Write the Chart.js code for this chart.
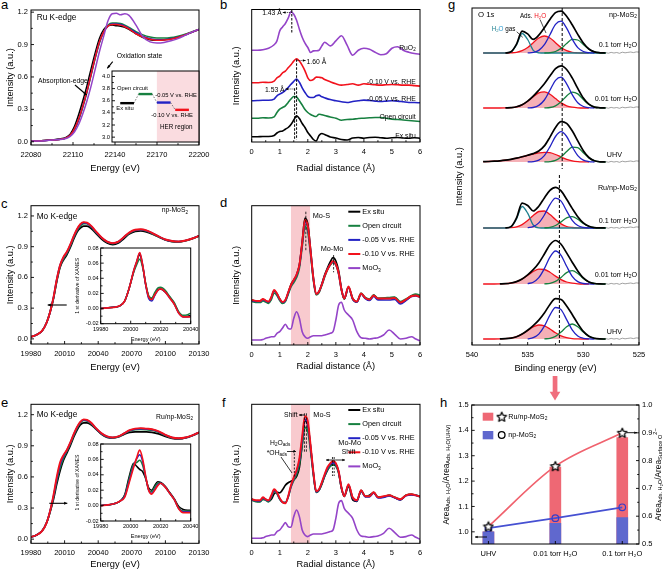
<!DOCTYPE html>
<html>
<head>
<meta charset="utf-8">
<script src="https://cdn.jsdelivr.net/npm/chart.js@4.4.1/dist/chart.umd.min.js"></script>
<style>
  html, body { margin: 0; padding: 0; background: #fff; }
  #fig { position: relative; width: 668px; height: 570px; overflow: hidden; background: #fff; }
  #fig canvas { position: absolute; }
  .tag { position: absolute; font: 13px "Liberation Sans", Arial, sans-serif; line-height: 13px; color: #000; }
</style>
</head>
<body>
<div id="fig">
  <div class="tag" style="left:1px;top:-2px">a</div>
  <div class="tag" style="left:220px;top:-2px">b</div>
  <div class="tag" style="left:1px;top:197px">c</div>
  <div class="tag" style="left:220px;top:196px">d</div>
  <div class="tag" style="left:1px;top:396px">e</div>
  <div class="tag" style="left:222px;top:396px">f</div>
  <div class="tag" style="left:448px;top:-2px">g</div>
  <div class="tag" style="left:440px;top:396px">h</div>
</div>
<script>
// ---------- data: panel a (Ru K-edge XANES) ----------
const aEnergy = [22080, 22090, 22100, 22105, 22108, 22111, 22114, 22117, 22120, 22123, 22126, 22129, 22132, 22135, 22138, 22141, 22144, 22147, 22150, 22155, 22160, 22165, 22170, 22175, 22180, 22185, 22190, 22195, 22200];
const aExSitu = [0.005, 0.012, 0.025, 0.04, 0.07, 0.14, 0.25, 0.38, 0.52, 0.68, 0.83, 0.96, 1.04, 1.075, 1.08, 1.075, 1.07, 1.06, 1.04, 1.0, 0.965, 0.945, 0.94, 0.945, 0.955, 0.97, 0.99, 1.015, 1.04];
const aOpen = [0.005, 0.012, 0.022, 0.035, 0.06, 0.11, 0.2, 0.32, 0.46, 0.62, 0.78, 0.92, 1.02, 1.08, 1.10, 1.10, 1.095, 1.08, 1.06, 1.02, 0.99, 0.97, 0.96, 0.96, 0.965, 0.978, 0.995, 1.018, 1.04];
const aM005 = [0.005, 0.012, 0.022, 0.035, 0.06, 0.115, 0.205, 0.33, 0.47, 0.63, 0.79, 0.925, 1.02, 1.07, 1.09, 1.09, 1.085, 1.07, 1.05, 1.01, 0.975, 0.955, 0.945, 0.945, 0.953, 0.968, 0.988, 1.013, 1.04];
const aM010 = [0.005, 0.012, 0.022, 0.035, 0.06, 0.12, 0.21, 0.33, 0.47, 0.63, 0.79, 0.93, 1.02, 1.07, 1.085, 1.085, 1.08, 1.065, 1.045, 1.0, 0.97, 0.95, 0.94, 0.942, 0.95, 0.965, 0.99, 1.015, 1.04];
const aRuO2 = [0.005, 0.01, 0.02, 0.03, 0.05, 0.09, 0.16, 0.26, 0.38, 0.52, 0.68, 0.84, 0.98, 1.12, 1.185, 1.19, 1.175, 1.185, 1.17, 1.08, 0.97, 0.925, 0.915, 0.92, 0.935, 0.955, 0.985, 1.015, 1.04];
const aTicksX = [22080, 22110, 22140, 22170, 22200];
const aTicksY = [0, 0.3, 0.6, 0.9, 1.2];
// inset of a: oxidation state
const aStates = ['Ex situ', 'Open circuit', '-0.05 V vs. RHE', '-0.10 V vs. RHE'];
const aOxidation = [3.56, 3.71, 3.57, 3.45];
const aInsetTicks = [3.0, 3.2, 3.4, 3.6, 3.8, 4.0];

// ---------- panel b (Ru EXAFS) ----------
const bR = [0, 0.2, 0.4, 0.6, 0.8, 0.9, 1.0, 1.1, 1.2, 1.3, 1.4, 1.5, 1.6, 1.7, 1.8, 1.9, 2.0, 2.1, 2.2, 2.3, 2.4, 2.5, 2.6, 2.8, 3.0, 3.2, 3.4, 3.6, 3.8, 4.0, 4.2, 4.4, 4.6, 4.8, 5.0, 5.2, 5.4, 5.6, 5.8, 6.0];
const bExSitu = [0.7, 0.7, 1, 1, 2, 4.5, 6, 6.5, 8.3, 10, 13, 17.5, 21.7, 19, 14, 10, 5, 1.5, -2, -3.5, 2, 4, 3, 0.5, -0.5, -2, -2.5, -0.5, 0, -0.7, 0, 0.3, -0.2, -0.7, -0.2, 0, -0.5, -0.7, -0.2, -0.7];
const bOpen = [0.3, 0.3, 0.8, 0.5, 1.7, 6, 9.3, 11, 12.7, 16, 19.5, 22, 21.5, 17.7, 13.5, 9, 6, 4, 2.7, 2, 4.3, 3.7, 3, 1.5, 0.3, -1.7, -1, -0.7, 0, 0.3, 0.7, 1, 1, 0.3, -0.7, -1, -1.5, -2, -2.5, -3];
const bM005 = [0, 0.3, 0.5, 0.5, 1.7, 5, 6.7, 8.3, 10.5, 13.3, 16.5, 19.5, 21.7, 18.5, 13, 8.3, 4.5, 3.3, 3.3, 5, 5.7, 4, 3, 1.2, 0, -1, -1.7, -0.7, 0, 0.7, 0.3, -0.3, -0.7, -0.3, 0, -0.3, -1, -1.7, -1.7, -2];
const bM010 = [0, 0, 0.5, 0.3, 1.7, 5, 6.7, 10, 11.7, 15, 18, 21.7, 24, 21.7, 17.5, 12, 5, 2.3, 3.3, 5.7, 5.5, 5, 3.3, 1, -1, -2.3, -1.7, -1, -2.3, -1, -1.5, -2, -2.3, -2, -1.7, -2, -2.3, -2.3, -2.8, -3.3];
const bRuO2 = [0, 0, 0.5, 2, 5.5, 9.3, 19.3, 23.3, 26.7, 32, 38.5, 36, 30, 21, 13, 7, 2.7, -2.3, -0.7, -0.5, 0, 4.3, 8, 4.3, 9.3, 14.5, 5, -5, 0, 2, 1, -2, -4.5, -3.5, 2, 3.5, 0, -2, -3.3, -4];
const bNames = ['Ex situ', 'Open circuit', '-0.05 V vs. RHE', '-0.10 V vs. RHE', 'RuO_2'];
const bOffsets = [2, 21, 38.7, 56.7, 89.3];
const rTicks = [0, 1, 2, 3, 4, 5, 6];

// ---------- panels c / e (Mo K-edge XANES) ----------
const cE = [19980, 19985, 19990, 19994, 19997, 20000, 20003, 20006, 20009, 20012, 20015, 20018, 20021, 20024, 20027, 20030, 20034, 20038, 20043, 20048, 20053, 20058, 20063, 20068, 20073, 20078, 20083, 20088, 20094, 20100, 20106, 20112, 20118, 20124, 20130];
const cExSitu = [0.02, 0.04, 0.08, 0.16, 0.26, 0.39, 0.56, 0.7, 0.77, 0.82, 0.89, 0.97, 1.04, 1.08, 1.10, 1.1, 1.075, 1.03, 0.975, 0.935, 0.92, 0.935, 0.98, 1.025, 1.05, 1.055, 1.045, 1.025, 0.995, 0.965, 0.95, 0.947, 0.958, 0.978, 1.003];
const cOpen = [0.02, 0.04, 0.08, 0.16, 0.26, 0.39, 0.57, 0.71, 0.78, 0.835, 0.905, 0.985, 1.055, 1.1, 1.125, 1.125, 1.09, 1.04, 0.985, 0.945, 0.93, 0.945, 0.99, 1.033, 1.058, 1.063, 1.053, 1.03, 0.997, 0.967, 0.952, 0.948, 0.959, 0.979, 1.004];
const cM005 = [0.02, 0.04, 0.08, 0.16, 0.26, 0.4, 0.58, 0.72, 0.795, 0.845, 0.915, 0.995, 1.065, 1.115, 1.135, 1.13, 1.095, 1.045, 0.988, 0.948, 0.933, 0.948, 0.993, 1.037, 1.062, 1.067, 1.057, 1.033, 0.999, 0.969, 0.954, 0.95, 0.96, 0.98, 1.005];
const cM010 = [0.02, 0.04, 0.08, 0.16, 0.26, 0.4, 0.58, 0.72, 0.8, 0.85, 0.92, 1.0, 1.07, 1.12, 1.14, 1.135, 1.1, 1.05, 0.99, 0.95, 0.935, 0.95, 0.995, 1.04, 1.065, 1.07, 1.06, 1.035, 1.0, 0.97, 0.955, 0.95, 0.96, 0.98, 1.005];
const eExSitu = [0.02, 0.04, 0.08, 0.16, 0.26, 0.38, 0.53, 0.66, 0.76, 0.83, 0.9, 0.98, 1.05, 1.1, 1.12, 1.12, 1.1, 1.06, 1.01, 0.98, 0.975, 0.985, 1.01, 1.03, 1.035, 1.035, 1.035, 1.03, 1.015, 0.99, 0.972, 0.967, 0.975, 0.997, 1.027];
const eOpen = [0.02, 0.04, 0.08, 0.16, 0.265, 0.4, 0.56, 0.69, 0.78, 0.845, 0.915, 0.995, 1.065, 1.12, 1.145, 1.14, 1.11, 1.065, 1.015, 0.985, 0.978, 0.988, 1.015, 1.042, 1.055, 1.058, 1.055, 1.05, 1.03, 1.0, 0.977, 0.97, 0.978, 0.999, 1.029];
const eM005 = [0.02, 0.04, 0.08, 0.16, 0.27, 0.41, 0.58, 0.72, 0.8, 0.855, 0.925, 1.005, 1.075, 1.127, 1.15, 1.145, 1.115, 1.068, 1.018, 0.988, 0.979, 0.989, 1.018, 1.047, 1.061, 1.065, 1.061, 1.056, 1.036, 1.003, 0.979, 0.971, 0.979, 1.0, 1.03];
const eM010 = [0.02, 0.04, 0.08, 0.16, 0.27, 0.42, 0.6, 0.74, 0.81, 0.86, 0.93, 1.01, 1.08, 1.13, 1.155, 1.15, 1.12, 1.07, 1.02, 0.99, 0.98, 0.99, 1.02, 1.05, 1.065, 1.07, 1.065, 1.06, 1.04, 1.005, 0.98, 0.972, 0.98, 1.0, 1.03];
const moTicksX = [19980, 20010, 20040, 20070, 20100, 20130];
// insets: 1st derivative of XANES
const iE = [19980, 19985, 19990, 19993, 19996, 19999, 20002, 20004, 20006, 20008, 20010, 20012, 20014, 20016, 20018, 20020, 20023, 20026, 20029, 20032, 20035, 20038, 20040];
const ciExSitu = [0, 0.001, 0.002, 0.004, 0.01, 0.027, 0.049, 0.061, 0.071, 0.056, 0.032, 0.016, 0.013, 0.019, 0.025, 0.026, 0.022, 0.015, 0.007, -0.005, -0.01, -0.01, -0.009];
const ciOpen = [0, 0.001, 0.002, 0.004, 0.01, 0.027, 0.048, 0.058, 0.065, 0.054, 0.033, 0.017, 0.014, 0.021, 0.027, 0.028, 0.024, 0.016, 0.008, -0.004, -0.009, -0.008, -0.006];
const ciM005 = [0, 0.001, 0.002, 0.004, 0.01, 0.027, 0.05, 0.062, 0.073, 0.057, 0.031, 0.013, 0.01, 0.017, 0.024, 0.026, 0.022, 0.014, 0.006, -0.006, -0.011, -0.011, -0.01];
const ciM010 = [0, 0.001, 0.002, 0.004, 0.01, 0.027, 0.05, 0.062, 0.074, 0.057, 0.032, 0.015, 0.012, 0.018, 0.024, 0.026, 0.022, 0.014, 0.006, -0.006, -0.011, -0.011, -0.011];
const eiExSitu = [0, 0.001, 0.003, 0.006, 0.014, 0.038, 0.055, 0.051, 0.047, 0.044, 0.035, 0.023, 0.02, 0.026, 0.031, 0.03, 0.025, 0.017, 0.009, -0.001, -0.005, -0.006, -0.006];
const eiOpen = [0, 0.001, 0.003, 0.006, 0.013, 0.035, 0.054, 0.056, 0.059, 0.052, 0.036, 0.021, 0.018, 0.024, 0.029, 0.029, 0.024, 0.016, 0.008, -0.003, -0.007, -0.007, -0.007];
const eiM005 = [0, 0.001, 0.003, 0.006, 0.012, 0.032, 0.052, 0.061, 0.066, 0.057, 0.037, 0.02, 0.016, 0.021, 0.027, 0.029, 0.024, 0.016, 0.008, -0.004, -0.008, -0.008, -0.008];
const eiM010 = [0, 0.001, 0.003, 0.006, 0.011, 0.03, 0.05, 0.062, 0.072, 0.06, 0.038, 0.02, 0.015, 0.02, 0.026, 0.029, 0.024, 0.016, 0.008, -0.004, -0.009, -0.009, -0.009];
const iTicksX = [19980, 20000, 20020, 20040];
const iTicksY = [-0.02, 0, 0.02, 0.04, 0.06, 0.08];

// ---------- panels d / f (Mo EXAFS) ----------
const dR = [0, 0.2, 0.3, 0.4, 0.5, 0.6, 0.7, 0.8, 0.9, 1.0, 1.1, 1.2, 1.3, 1.4, 1.5, 1.6, 1.7, 1.8, 1.9, 2.0, 2.1, 2.2, 2.3, 2.4, 2.5, 2.6, 2.7, 2.8, 2.9, 3.0, 3.1, 3.2, 3.3, 3.45, 3.6, 3.75, 3.9, 4.05, 4.2, 4.35, 4.5, 4.7, 4.9, 5.1, 5.3, 5.5, 5.7, 5.85, 6.0];
const dExSitu = [45, 43.5, 44, 45.5, 44, 42.7, 47, 54, 51, 46, 42.7, 44.5, 52, 60.5, 65, 70, 80, 103, 127, 121, 95, 67, 51, 53, 61, 70, 77, 83, 87.3, 84, 74, 56, 46, 58, 46, 43, 51, 47, 45, 50, 46, 46.7, 47, 47.5, 42, 45, 49, 50, 48.3];
const dOpen = [43.5, 42.5, 42.5, 44, 43, 41.5, 45.5, 52, 49.5, 44.5, 41.5, 43.5, 50.5, 58, 62.5, 67.5, 77, 98, 118.5, 113, 90, 64.5, 50, 52.5, 59.5, 68, 75, 80, 82.7, 80, 71, 55, 46, 57.5, 46.5, 43.5, 52, 47.5, 46, 50, 47, 47, 47.5, 48, 43.5, 46, 49.5, 51, 49.5];
const dM005 = [44.5, 43.5, 43.5, 45.5, 44, 43, 47.5, 54.5, 51, 45.5, 42.5, 44.5, 52, 59.5, 64.5, 70, 79.5, 101, 123, 117.5, 93, 66, 51, 53.5, 60.5, 69, 75.5, 80.5, 83.5, 80.5, 71.5, 55.5, 46.5, 58, 46, 43, 51, 46.5, 44.5, 48.5, 45, 45, 45, 45.5, 41, 44.5, 48.5, 49, 48];
const dM010 = [45, 44, 44, 46, 44.5, 43.5, 48, 55, 51.5, 46, 43, 45, 52.5, 60, 65, 70.5, 80, 102, 125, 119, 94, 66.5, 51, 53.5, 60.5, 69, 75.5, 80.5, 84, 81, 72, 55.5, 46.5, 58.5, 46.5, 43.5, 51.5, 47, 45.5, 49.5, 46.5, 46.5, 46.5, 47, 42.5, 45.5, 49, 49.5, 48];
const moO3 = [5, 5, 5, 5.5, 6.7, 7.5, 8.3, 8.3, 11.7, 13.3, 17, 20.7, 16.7, 16, 26.7, 33.3, 26.7, 13.3, 8.3, 6.7, 8.3, 9.3, 9.3, 9.3, 9.3, 10, 10.7, 11.7, 13.3, 25, 40, 42.7, 35, 30, 25, 13.3, 7.3, 6.7, 6, 6.7, 7.3, 10, 15, 10.7, 6, 6.7, 8.3, 6, 4];
const fExSitu = [44.3, 42, 42, 44.5, 44, 42, 44, 49.5, 51, 50.5, 53.5, 58, 60.5, 62, 63.5, 67, 76, 99, 123, 118, 96, 70, 51, 53, 59, 67, 73, 77.5, 81, 79, 71, 55, 47, 57, 43.5, 42, 53, 47, 48, 51, 46, 46.5, 48, 45.7, 43.5, 48, 49, 48, 46.7];
const fOpen = [43, 41.5, 41.5, 44, 43, 41.5, 46, 52, 49.5, 44, 41, 41, 46, 56, 63, 69, 79, 98, 116, 112, 92, 68, 51, 53, 59.5, 67, 73.5, 77, 78.5, 77, 70, 55, 47, 58, 45.5, 43, 52, 47, 47, 50.5, 46.5, 46.5, 48, 46, 44, 48, 49, 48, 46.7];
const fM005 = [43.5, 42.5, 42.5, 45.5, 43.5, 42.5, 47, 53, 50.5, 44.5, 41, 40.5, 46.5, 57, 65, 72, 83, 104, 124, 119, 96, 70, 51.5, 53.5, 60.5, 68, 75, 79, 80.5, 79, 71.5, 55.5, 47, 58.5, 45.5, 42.5, 52.5, 46.5, 46.5, 50.5, 45.5, 46, 47.5, 45.5, 43.5, 47.5, 48.5, 48, 46.5];
const fM010 = [44, 43, 43, 46, 44, 43, 48, 54, 51, 45, 41, 40, 47, 58, 66, 73, 85, 107, 127, 122, 98, 71, 52, 54, 61, 69, 76, 80, 82.3, 80, 72, 56, 47, 59, 46, 43, 53, 47, 47, 51, 46, 47, 48, 46, 44, 48, 49, 48, 46.7];
const dNames = ['Ex situ', 'Open circuit', '-0.05 V vs. RHE', '-0.10 V vs. RHE', 'MoO_3'];
const moSBand = [1.4, 2.08];

// ---------- panel g (O 1s XPS) ----------
const gBE = [539, 538.5, 538, 537.5, 537, 536.5, 536, 535.5, 535, 534.5, 534, 533.5, 533, 532.5, 532, 531.5, 531, 530.5, 530, 529.5, 529, 528.5, 528];
const N = null;
const gEnvelope = [
  [N, N, N, N, 0, 1.2, 8.9, 21.8, 19.1, 13.6, 17.8, 25.3, 33.6, 40.4, 41.9, 36.7, 28.2, 18.6, 10, 4, 1.1, 0.2, 0],
  [N, N, N, N, 0.1, 0.4, 1.2, 3.2, 6.8, 11.8, 17.8, 24.2, 32.0, 39.3, 42.1, 38.5, 30.1, 19.6, 10.0, 3.8, 0.9, 0.2, 0],
  [0.3, 0.5, 0.8, 1.2, 1.8, 2.7, 3.8, 5.2, 6.7, 8.4, 11.0, 16.1, 24.9, 34.6, 40.3, 38.6, 31.2, 21.1, 11.3, 4.5, 1.2, 0.2, 0],
  [N, N, N, N, 0.1, 1.4, 10.2, 24.9, 22.5, 17.0, 21.8, 30.1, 37.6, 40.7, 37.1, 28.7, 19.6, 11.3, 5.1, 1.7, 0.4, 0.1, 0],
  [N, N, N, 0.1, 0.3, 1.0, 2.4, 5.0, 9.1, 14.3, 21.1, 30.0, 39.3, 43.5, 39.7, 31.1, 21.8, 13.1, 6.1, 2.1, 0.5, 0.1, 0],
  [N, N, N, 0.1, 0.3, 0.9, 2.3, 4.9, 8.7, 13.4, 18.9, 26.0, 34.6, 40.3, 39.5, 33.0, 24.5, 15.4, 7.6, 2.7, 0.7, 0.1, 0]
];
const gLattice = [ // blue component
  [N, N, N, N, N, N, N, N, 0.1, 0.6, 2.6, 8.3, 18.3, 28.6, 31.8, 24.9, 13.9, 5.4, 1.5, 0.3, 0, N, N],
  [N, N, N, N, N, N, N, N, 0.1, 0.5, 2.6, 8.0, 17.7, 27.7, 30.8, 24.2, 13.4, 5.3, 1.5, 0.3, 0, N, N],
  [N, N, N, N, N, N, N, N, 0.1, 0.4, 1.9, 6.4, 15.2, 25.5, 30.3, 25.5, 15.2, 6.4, 1.9, 0.4, 0, N, N],
  [N, N, N, N, N, N, N, N, 0.3, 1.4, 5.1, 13.0, 23.4, 29.8, 26.9, 17.1, 7.7, 2.5, 0.6, 0.1, 0, N, N],
  [N, N, N, N, N, N, N, N, 0.4, 1.8, 6.3, 15.4, 26.8, 33.0, 28.7, 17.7, 7.7, 2.4, 0.5, 0.1, 0, N, N],
  [N, N, N, N, N, N, N, N, 0.2, 1.3, 4.9, 12.8, 23.9, 31.5, 29.4, 19.4, 9.1, 3.0, 0.7, 0.1, 0, N, N]
];
const gSurface = [ // green component
  [N, N, N, N, N, N, N, N, N, N, N, 0, 0.3, 1.5, 4.6, 9.5, 13.6, 13.0, 8.5, 3.7, 1.1, 0.2, 0],
  [N, N, N, N, N, N, N, N, N, N, N, 0.1, 0.5, 2.2, 6.2, 12.1, 15.9, 14.1, 8.5, 3.5, 0.9, 0.2, 0],
  [N, N, N, N, N, N, N, N, N, N, N, 0.1, 0.4, 1.6, 5.0, 10.4, 14.8, 14.3, 9.3, 4.1, 1.2, 0.2, 0],
  [N, N, N, N, N, N, N, N, N, N, N, 0.1, 0.7, 2.5, 6.1, 10.1, 11.4, 8.7, 4.5, 1.6, 0.4, 0.1, 0],
  [N, N, N, N, N, N, N, N, N, N, N, 0.1, 0.7, 2.6, 6.6, 11.4, 13.3, 10.5, 5.6, 2.0, 0.5, 0.1, 0],
  [N, N, N, N, N, N, N, N, N, N, N, 0.1, 0.7, 2.6, 6.9, 12.3, 15.0, 12.3, 6.9, 2.6, 0.7, 0.1, 0]
];
const gAdsorbed = [ // red, filled component
  [0, 0, 0, 0, 0, 0.2, 0.7, 2.3, 5.5, 10.3, 15.0, 17, 15.0, 10.3, 5.5, 2.3, 0.7, 0.2, 0, 0, N, N, N],
  [0, 0, 0, 0, 0.1, 0.4, 1.2, 3.2, 6.7, 11.3, 15.2, 16.2, 13.8, 9.4, 5.1, 2.2, 0.8, 0.2, 0, 0, N, N, N],
  [0.3, 0.5, 0.8, 1.2, 1.8, 2.7, 3.8, 5.2, 6.6, 8.0, 9.1, 9.7, 9.3, 7.5, 5.0, 2.7, 1.2, 0.4, 0.1, 0, N, N, N],
  [0, 0, 0, 0, 0.1, 0.3, 1.2, 3.4, 7.4, 12.6, 16.5, 17.0, 13.5, 8.4, 4.1, 1.5, 0.5, 0.1, 0, 0, N, N, N],
  [0, 0, 0, 0.1, 0.3, 1.0, 2.4, 5.0, 8.7, 12.5, 14.8, 14.5, 11.8, 7.9, 4.4, 2.0, 0.8, 0.2, 0, 0, N, N, N],
  [0, 0, 0, 0.1, 0.3, 0.9, 2.3, 4.9, 8.5, 12.1, 14.0, 13.1, 10.0, 6.2, 3.2, 1.3, 0.4, 0.1, 0, 0, N, N, N]
];
const gGas = [ // teal, only with 0.1 torr H2O
  [0, 0, 0, 0, 0, 1.0, 8.2, 19.5, 13.5, 2.7, 0.2, 0, 0, 0, 0, 0, 0, 0, 0, 0, 0, 0, 0],
  N, N,
  [0, 0, 0, 0, 0, 1.1, 9.0, 21.5, 14.8, 3.0, 0.2, 0, 0, 0, 0, 0, 0, 0, 0, 0, 0, 0, 0],
  N, N
];
const gRawBE = [528.5, 528.25, 528, 527.75, 527.5, 527.25, 527, 526.75, 526.5, 526.25, 526, 525.75, 525.5, 525.25, 525];
const gRawTail = [0.2, -0.5, 0.4, -0.2, 0.6, 0.0, 0.5, -0.3, 0.8, 0.2, 0.6, 1.0, 0.4, 1.1, 0.9];
const gBaselines = [292, 237, 183, 117, 61, 6];
const gConditions = ['0.1 torr H_2O', '0.01 torr H_2O', 'UHV', '0.1 torr H_2O', '0.01 torr H_2O', 'UHV'];
const gTicks = [540, 535, 530, 525];

// ---------- panel h ----------
const hConditions = ['UHV', '0.01 torr H\u2082O', '0.1 torr H\u2082O'];
const hRuBar = [1.0, 1.255, 1.372];
const hNpBar = [1.0, 1.033, 1.056];
const hRuRatio = [0.563, 0.78, 0.90];
const hNpRatio = [0.557, 0.593, 0.632];
const hTicksL = [1.0, 1.1, 1.2, 1.3, 1.4, 1.5];
const hTicksR = [0.5, 0.6, 0.7, 0.8, 0.9, 1.0];

// ---------- style ----------
const FONT = '"Liberation Sans", Arial, Helvetica, sans-serif';
const BLACK = '#000000', GREEN = '#178040', BLUE = '#2222c4', RED = '#f2121c', PURPLE = '#9444c8';
const TEAL = '#1d7f8e', FILL = 'rgba(236,112,122,0.55)', BAND = 'rgba(242,150,158,0.5)';
const PINKBAR = 'rgb(238,104,116)', BLUEBAR = 'rgb(96,104,206)';
Chart.defaults.font.family = FONT;
Chart.defaults.color = '#000';
const fig = document.getElementById('fig');

// ---------- drawing helpers ----------
function txt(ctx, x, y, parts, size, align, rot) {
  if (typeof parts === 'string') parts = [[parts]];
  const runs = [];
  parts.forEach(([s, color, style]) => {
    const re = /([_^])(?:\{([^}]*)\}|(.))/g;
    let last = 0, m;
    const push = (t, k) => { if (t) runs.push({ t, k, color: color || '#000', style: style || '' }); };
    while ((m = re.exec(s))) {
      push(s.slice(last, m.index), 0);
      push(m[2] !== undefined ? m[2] : m[3], m[1] === '_' ? 1 : -1);
      last = re.lastIndex;
    }
    push(s.slice(last), 0);
  });
  const font = r => (r.style ? r.style + ' ' : '') + (r.k ? size * 0.68 : size).toFixed(2) + 'px ' + FONT;
  let w = 0;
  runs.forEach(r => { ctx.font = font(r); r.w = ctx.measureText(r.t).width; w += r.w; });
  ctx.save();
  ctx.translate(x, y);
  if (rot) ctx.rotate(rot);
  ctx.textBaseline = 'middle';
  ctx.textAlign = 'left';
  let cx = align === 'center' ? -w / 2 : align === 'right' ? -w : 0;
  runs.forEach(r => {
    ctx.font = font(r);
    ctx.fillStyle = r.color;
    ctx.fillText(r.t, cx, r.k === 1 ? size * 0.28 : r.k === -1 ? -size * 0.32 : 0);
    cx += r.w;
  });
  ctx.restore();
}
function line(ctx, pts, o = {}) {
  ctx.save();
  ctx.strokeStyle = o.c || '#000';
  ctx.lineWidth = o.w || 0.8;
  ctx.setLineDash(o.dash || []);
  ctx.beginPath();
  pts.forEach(([x, y], i) => i ? ctx.lineTo(x, y) : ctx.moveTo(x, y));
  ctx.stroke();
  ctx.restore();
}
function head(ctx, x0, y0, x1, y1, h, c) {
  const a = Math.atan2(y1 - y0, x1 - x0);
  ctx.save();
  ctx.fillStyle = c || '#000';
  ctx.beginPath();
  ctx.moveTo(x1, y1);
  ctx.lineTo(x1 - h * Math.cos(a - 0.45), y1 - h * Math.sin(a - 0.45));
  ctx.lineTo(x1 - h * Math.cos(a + 0.45), y1 - h * Math.sin(a + 0.45));
  ctx.closePath();
  ctx.fill();
  ctx.restore();
}
function arrow(ctx, x0, y0, x1, y1, o = {}) {
  line(ctx, [[x0, y0], [x1, y1]], o);
  head(ctx, x0, y0, x1, y1, o.h || 3.5, o.c);
}
function legend(ctx, x, y0, dy, names, colors) {
  names.forEach((n, i) => {
    const y = y0 + i * dy;
    line(ctx, [[x, y], [x + 12, y]], { c: colors[i], w: 2 });
    txt(ctx, x + 14, y, n, 7.3, 'left');
  });
}
function starImage(size) {
  const c = document.createElement('canvas');
  c.width = c.height = size;
  const g = c.getContext('2d');
  const r = size / 2 - 1, ri = r * 0.48, cx = size / 2, cy = size / 2 + 0.4;
  g.beginPath();
  for (let k = 0; k < 10; k++) {
    const rr = k % 2 ? ri : r, a = -Math.PI / 2 + k * Math.PI / 5;
    g.lineTo(cx + rr * Math.cos(a), cy + rr * Math.sin(a));
  }
  g.closePath();
  g.fillStyle = '#fff'; g.fill();
  g.strokeStyle = '#000'; g.lineWidth = 1.3; g.lineJoin = 'round'; g.stroke();
  return c;
}
const STAR = starImage(12);

function curve(xs, ys, color, extra) {
  return Object.assign({
    data: xs.map((x, i) => ({ x, y: ys[i] })),
    borderColor: color, backgroundColor: color, borderWidth: 1.5, pointRadius: 0, fill: false
  }, extra || {});
}
const shift = (ys, off) => ys.map(v => v == null ? null : v + off);

// ---------- chart factory: fixed plot area in page pixels ----------
function axis(o, position, p, fit) {
  const [bx, by, bw, bh] = p.box;
  const fs = o.fs || 7.5, tfs = o.tfs || 9.3, lh = tfs * 1.2;
  const tpad = { top: 0, bottom: 0 };
  if (o.title) {
    if (position === 'bottom') tpad.bottom = Math.max(0, by + bh - o.titleAt - lh / 2);
    else tpad.top = Math.max(0, o.titleAt - bx - lh / 2);
  }
  return {
    type: 'linear', position, min: o.min, max: o.max, reverse: !!o.reverse, offset: false, bounds: 'data',
    grid: { display: false, drawTicks: false },
    border: { display: false },
    ticks: {
      display: !!o.labels, autoSkip: false, maxRotation: 0, minRotation: 0,
      padding: o.pad == null ? 3 : o.pad, color: '#000', font: { size: fs, family: FONT },
      callback: (v, i) => o.labels ? (typeof o.labels === 'function' ? o.labels(v) : o.labels[i]) : ''
    },
    title: { display: !!o.title, text: o.title || '', color: '#000', font: { size: tfs, family: FONT }, padding: tpad },
    afterBuildTicks: s => { s.ticks = (o.ticks || []).map(v => ({ value: v })); },
    afterFit: fit
  };
}
function helpers(chart, p) {
  const a = chart.chartArea;
  return {
    x: v => chart.scales.x.getPixelForValue(v) + p.box[0],
    y: v => chart.scales.y.getPixelForValue(v) + p.box[1],
    l: a.left + p.box[0], r: a.right + p.box[0], t: a.top + p.box[1], b: a.bottom + p.box[1]
  };
}
function decor(p) {
  return {
    id: 'decor',
    beforeDatasetsDraw(chart) {
      if (!p.under) return;
      const ctx = chart.ctx;
      ctx.save(); ctx.translate(-p.box[0], -p.box[1]);
      p.under(ctx, helpers(chart, p));
      ctx.restore();
    },
    afterDatasetsDraw(chart) {
      const ctx = chart.ctx, a = chart.chartArea;
      ctx.save();
      ctx.strokeStyle = '#000'; ctx.lineWidth = 1;
      ctx.strokeRect(a.left, a.top, a.right - a.left, a.bottom - a.top);
      const marks = (scale, o, side) => {
        if (!o || !o.ticks || !o.ticks.length) return;
        const put = (v, len) => {
          const px = scale.getPixelForValue(v);
          if (side === 'bottom') { ctx.moveTo(px, a.bottom); ctx.lineTo(px, a.bottom - len); }
          else if (side === 'left') { ctx.moveTo(a.left, px); ctx.lineTo(a.left + len, px); }
          else { ctx.moveTo(a.right, px); ctx.lineTo(a.right - len, px); }
        };
        ctx.beginPath();
        o.ticks.forEach(v => put(v, 3));
        if (o.minor !== false) for (let i = 0; i < o.ticks.length - 1; i++) put((o.ticks[i] + o.ticks[i + 1]) / 2, 1.8);
        ctx.stroke();
      };
      ctx.lineWidth = 0.9;
      marks(chart.scales.x, p.x, 'bottom');
      marks(chart.scales.y, p.y, 'left');
      if (p.y2) marks(chart.scales.y2, p.y2, 'right');
      ctx.restore();
      if (p.notes) {
        ctx.save(); ctx.translate(-p.box[0], -p.box[1]);
        p.notes(ctx, helpers(chart, p));
        ctx.restore();
      }
    }
  };
}
function build(p) {
  const [bx, by, bw, bh] = p.box, [L, T, R, B] = p.area;
  const cv = document.createElement('canvas');
  cv.width = bw; cv.height = bh;
  cv.style.left = bx + 'px'; cv.style.top = by + 'px';
  cv.style.width = bw + 'px'; cv.style.height = bh + 'px';
  fig.appendChild(cv);
  const scales = {
    x: axis(p.x, 'bottom', p, s => { s.height = by + bh - B; }),
    y: axis(p.y, 'left', p, s => { s.width = L - bx; })
  };
  if (p.y2) scales.y2 = axis(p.y2, 'right', p, s => { s.width = bx + bw - R; });
  return new Chart(cv, {
    type: p.type || 'line',
    data: { datasets: p.datasets },
    options: {
      responsive: false, animation: false, devicePixelRatio: 1,
      layout: { padding: { left: 0, top: T - by, right: p.y2 ? 0 : bx + bw - R, bottom: 0 } },
      plugins: { legend: { display: false }, tooltip: { enabled: false } },
      elements: { point: { radius: 0 }, line: { borderWidth: 1.5, cubicInterpolationMode: 'monotone' } },
      scales
    },
    plugins: [decor(p)]
  });
}
const fix1 = v => v.toFixed(1), fix2 = v => v.toFixed(2);
const stateColors = [BLACK, GREEN, BLUE, RED];

// ---------- a ----------
build({
  box: [0, 0, 220, 185], area: [31, 10, 199, 145],
  x: { min: 22080, max: 22200, ticks: aTicksX, labels: aTicksX.map(String), title: 'Energy (eV)', titleAt: 168, pad: 5 },
  y: { min: -0.03, max: 1.22, ticks: aTicksY, labels: fix1, title: 'Intensity (a.u.)', titleAt: 10 },
  datasets: [
    curve(aEnergy, aRuO2, PURPLE), curve(aEnergy, aM010, RED), curve(aEnergy, aM005, BLUE),
    curve(aEnergy, aOpen, GREEN), curve(aEnergy, aExSitu, BLACK)
  ],
  notes(ctx) {
    txt(ctx, 36.7, 17.3, 'Ru K-edge', 8.3, 'left');
    txt(ctx, 139.5, 56, 'Oxidation state', 6.8, 'center');
    arrow(ctx, 112.7, 61.7, 107.3, 68.3, { w: 1.1 });
    txt(ctx, 38, 81, 'Absorption-edge', 6.8, 'left');
    arrow(ctx, 75, 85, 86.7, 95, { w: 1.1 });
  }
});
// inset of a
const statePts = [];
aOxidation.forEach((v, i) => statePts.push({ x: i + 0.45, y: v }, { x: i + 1.2, y: v }));
build({
  box: [92, 62, 122, 88], area: [112, 71, 199, 142],
  x: { min: 0, max: 4.75, ticks: [] },
  y: { min: 2.92, max: 4.09, ticks: aInsetTicks, labels: fix1, fs: 5.8, pad: 2 },
  datasets: [{
    data: statePts, borderColor: '#000', borderWidth: 2, pointRadius: 0, tension: 0, cubicInterpolationMode: 'default',
    segment: {
      borderColor: c => c.p0DataIndex % 2 ? '#555' : stateColors[c.p0DataIndex / 2],
      borderDash: c => c.p0DataIndex % 2 ? [1.5, 1.5] : [],
      borderWidth: c => c.p0DataIndex % 2 ? 0.8 : 2.4
    }
  }],
  under(ctx, H) {
    ctx.fillStyle = 'rgba(248,208,214,0.75)';
    ctx.fillRect(H.x(2.45), H.t, H.r - H.x(2.45), H.b - H.t);
  },
  notes(ctx) {
    txt(ctx, 132.5, 88.3, aStates[1], 5.8, 'center');
    txt(ctx, 125, 108.3, aStates[0], 5.8, 'center');
    txt(ctx, 176, 95, aStates[2], 5.8, 'center');
    txt(ctx, 172, 115, aStates[3], 5.8, 'center');
    txt(ctx, 176.3, 127.7, 'HER region', 6.3, 'center');
  }
});

// ---------- b ----------
const bColors = [BLACK, GREEN, BLUE, RED, PURPLE];
const bSeries = [bExSitu, bOpen, bM005, bM010, bRuO2];
build({
  box: [220, 0, 225, 185], area: [251.7, 9.5, 420, 142],
  x: { min: 0, max: 6, ticks: rTicks, labels: rTicks.map(String), title: 'Radial distance (\u00c5)', titleAt: 168, pad: 5 },
  y: { min: -2.5, max: 130, ticks: [], title: 'Intensity (a.u.)', titleAt: 236.7 },
  datasets: bSeries.map((s, i) => curve(bR, shift(s, bOffsets[i]), bColors[i], { borderWidth: 1.6 })).reverse(),
  notes(ctx, H) {
    const x143 = H.x(1.43), x160 = H.x(1.60), x153 = H.x(1.53);
    line(ctx, [[x143, 10], [x143, 33]], { dash: [2.5, 1.5], w: 1 });
    line(ctx, [[x160, 59.3], [x160, 139.5]], { dash: [2.5, 1.5], w: 1 });
    line(ctx, [[x153, 88.3], [x153, 139.5]], { dash: [2.5, 1.5], w: 1 });
    arrow(ctx, x143, 12.5, x143 - 9, 12.5, { dash: [1, 1], h: 3 });
    txt(ctx, x143 - 10, 13.5, '1.43 \u00c5', 6.8, 'right');
    arrow(ctx, x160, 60.5, x160 + 9, 60.5, { dash: [1, 1], h: 3 });
    txt(ctx, x160 + 10, 61.7, '1.60 \u00c5', 6.8, 'left');
    arrow(ctx, x153, 89, x153 - 9, 89, { dash: [1, 1], h: 3 });
    txt(ctx, x153 - 10, 90, '1.53 \u00c5', 6.8, 'right');
    const ys = [135.7, 117.3, 98.7, 81.7, 48];
    bNames.forEach((n, i) => txt(ctx, 415.7, ys[i], n, 6.8, 'right'));
  }
});

// ---------- c / e ----------
function moXanes(box, area, top, series, titleAt, notes) {
  build({
    box, area,
    x: { min: 19980, max: 20130, ticks: moTicksX, labels: moTicksX.map(String), title: 'Energy (eV)', titleAt, pad: 5 },
    y: { min: top, max: 1.3, ticks: aTicksY, labels: fix1, title: 'Intensity (a.u.)', titleAt: box[0] + 10 },
    datasets: [curve(cE, series[3], RED, { borderWidth: 1.9 }), curve(cE, series[2], BLUE, { borderWidth: 1.7 }),
               curve(cE, series[1], GREEN, { borderWidth: 1.7 }), curve(cE, series[0], BLACK, { borderWidth: 1.7 })],
    notes
  });
}
function moInset(box, area, series) {
  build({
    box, area,
    x: { min: 19980, max: 20040, ticks: iTicksX, labels: iTicksX.map(String), fs: 5.6, pad: 2, title: 'Energy (eV)', tfs: 5.6, titleAt: area[3] + 15.5 },
    y: { min: -0.02, max: 0.08, ticks: iTicksY, labels: fix2, fs: 5.6, pad: 2, title: '1 st derivative of XANES', tfs: 5.1, titleAt: box[0] + 5.5 },
    datasets: [curve(iE, series[3], RED, { borderWidth: 1.7 }), curve(iE, series[2], BLUE), curve(iE, series[1], GREEN), curve(iE, series[0], BLACK)]
  });
}
moXanes([0, 185, 220, 195], [31, 205.7, 199, 344], -0.05, [cExSitu, cOpen, cM005, cM010], 367.7, ctx => {
  txt(ctx, 36.7, 216.7, 'Mo K-edge', 8.3, 'left');
  txt(ctx, 188, 210.5, 'np-MoS_2', 6.8, 'right');
  arrow(ctx, 66.7, 305, 47.7, 305, { w: 1.1 });
});
moInset([72, 240, 133, 106], [100.7, 248, 190.7, 323.7], [ciExSitu, ciOpen, ciM005, ciM010]);
moXanes([0, 375, 220, 195], [31, 404.3, 199, 543.3], -0.04, [eExSitu, eOpen, eM005, eM010], 565, ctx => {
  txt(ctx, 36.7, 414.3, 'Mo K-edge', 8.3, 'left');
  txt(ctx, 193, 416.7, 'Ru/np-MoS_2', 6.8, 'right');
  arrow(ctx, 49.3, 503.3, 67.3, 503.3, { w: 1.1 });
});
moInset([72, 437, 133, 103], [100.7, 444, 190.7, 521], [eiExSitu, eiOpen, eiM005, eiM010]);

// ---------- d / f ----------
const dColors = [BLACK, GREEN, BLUE, RED, PURPLE];
function moExafs(box, area, series, titleAt, legendY, notes) {
  build({
    box, area,
    x: { min: 0, max: 6, ticks: rTicks, labels: rTicks.map(String), title: 'Radial distance (\u00c5)', titleAt, pad: 5 },
    y: { min: 0, max: area[3] - area[1], ticks: [], title: 'Intensity (a.u.)', titleAt: 236.7 },
    datasets: [curve(dR, series[3], RED, { borderWidth: 1.9 }), curve(dR, series[2], BLUE, { borderWidth: 1.7 }),
               curve(dR, series[1], GREEN, { borderWidth: 1.7 }), curve(dR, series[0], BLACK, { borderWidth: 1.7 }),
               curve(dR, moO3, PURPLE, { borderWidth: 1.6 })],
    under(ctx, H) {
      ctx.fillStyle = BAND;
      ctx.fillRect(H.x(moSBand[0]), H.t, H.x(moSBand[1]) - H.x(moSBand[0]), H.b - H.t);
    },
    notes(ctx, H) {
      legend(ctx, 348.3, legendY, 14.1, dNames, dColors);
      notes(ctx, H);
    }
  });
}
moExafs([220, 185, 225, 195], [251.7, 205.7, 420, 345], [dExSitu, dOpen, dM005, dM010], 366.7, 211.7, (ctx, H) => {
  line(ctx, [[H.x(1.93), 211.7], [H.x(1.93), 251.7]], { dash: [2.5, 1.5] });
  txt(ctx, 312.7, 215.7, 'Mo-S', 7.3, 'left');
  line(ctx, [[H.x(2.92), 255], [H.x(2.92), 272.3]], { dash: [2.5, 1.5] });
  txt(ctx, 320.7, 249, 'Mo-Mo', 7.3, 'left');
});
moExafs([220, 375, 225, 195], [251.7, 404.3, 420, 543.3], [fExSitu, fOpen, fM005, fM010], 565, 410, (ctx, H) => {
  line(ctx, [[H.x(1.88), 413.3], [H.x(1.88), 451.7]], { dash: [2.5, 1.5] });
  line(ctx, [[H.x(1.95), 413.3], [H.x(1.95), 451.7]], { dash: [2.5, 1.5] });
  txt(ctx, 284, 415, 'Shift', 6.8, 'left');
  arrow(ctx, H.x(1.88), 415, 299, 415, { w: 0.9, h: 3 });
  txt(ctx, 313.3, 415, 'Mo-S', 7.3, 'left');
  txt(ctx, 270, 443.3, 'H_2O_{ads}', 6.8, 'left');
  txt(ctx, 266.7, 453.3, '*OH_{ads}', 6.8, 'left');
  arrow(ctx, 287, 451.5, 296, 451.5, { w: 0.8, h: 3 });
  line(ctx, [[281, 457], [292, 473]], { w: 0.8 });
  line(ctx, [[H.x(1.52), 450], [H.x(1.52), 478]], { dash: [2, 1.5] });
  txt(ctx, 338.3, 443.3, 'Mo-Mo', 7.3, 'left');
  txt(ctx, 341.7, 452.3, 'Shift', 6.8, 'left');
  arrow(ctx, 335.5, 460, 326, 460, { w: 0.8, h: 3 });
  arrow(ctx, 335.5, 460, 345, 460, { w: 0.8, h: 3 });
  line(ctx, [[H.x(2.88), 457], [H.x(2.88), 476]], { dash: [2, 1.5] });
  line(ctx, [[H.x(2.94), 457], [H.x(2.94), 476]], { dash: [2, 1.5] });
});

// ---------- g ----------
const gSets = [];
gBaselines.forEach((off, s) => {
  gSets.push(curve(gRawBE, shift(gRawTail, off), '#8a8a8a', { borderWidth: 0.8, order: 7, cubicInterpolationMode: 'default', tension: 0 }));
  gSets.push(curve(gBE, shift(gAdsorbed[s], off), RED, { borderWidth: 1.3, order: 6, fill: { value: off }, backgroundColor: FILL }));
  if (gGas[s]) gSets.push(curve(gBE, shift(gGas[s], off), TEAL, { borderWidth: 1.3, order: 5 }));
  gSets.push(curve(gBE, shift(gSurface[s], off), GREEN, { borderWidth: 1.3, order: 4 }));
  gSets.push(curve(gBE, shift(gLattice[s], off), BLUE, { borderWidth: 1.3, order: 3 }));
  gSets.push(curve(gBE, shift(gEnvelope[s], off), BLACK, { borderWidth: 1.7, order: 2 }));
});
build({
  box: [440, 0, 228, 375], area: [472, 8, 639, 345],
  x: { min: 525, max: 540, reverse: true, ticks: gTicks, labels: gTicks.map(String), title: 'Binding energy (eV)', titleAt: 368, pad: 5 },
  y: { min: 0, max: 337, ticks: [], title: 'Intensity (a.u.)', titleAt: 459 },
  datasets: gSets,
  notes(ctx, H) {
    line(ctx, [[H.x(531.9), H.y(337)], [H.x(531.9), H.y(176)]], { dash: [3, 2], w: 1 });
    line(ctx, [[H.x(532.15), H.y(170)], [H.x(532.15), H.y(0)]], { dash: [3, 2], w: 1 });
    txt(ctx, 478, 15, [['O 1'], ['s', null, 'italic']], 7.8, 'left');
    txt(ctx, 533, 16, [['Ads. '], ['H_2O', RED]], 6.3, 'center');
    line(ctx, [[540, 19.5], [546, 33]], { w: 0.7 });
    txt(ctx, 491.7, 29.3, [['H_2', TEAL], ['O', '#2a9ad0'], [' gas']], 6.3, 'left');
    line(ctx, [[516.7, 31.7], [522.7, 37.3]], { w: 0.7 });
    txt(ctx, 637, 15, 'np-MoS_2', 7.2, 'right');
    txt(ctx, 637, 188, 'Ru/np-MoS_2', 7.2, 'right');
    const ys = [45, 99, 155, 220.7, 275, 331.7];
    gConditions.forEach((c, i) => txt(ctx, c === 'UHV' ? 622 : 637, ys[i], c, 7.2, 'right'));
  }
});

// ---------- h ----------
build({
  type: 'bar',
  box: [440, 375, 228, 195], area: [471.7, 405, 639, 544],
  x: { min: -0.25, max: 2.25, ticks: [0, 1, 2], labels: hConditions, pad: 5, minor: false },
  y: { min: 0.952, max: 1.5, ticks: hTicksL, labels: fix1 },
  y2: { min: 0.5, max: 1.0, ticks: hTicksR, labels: fix1 },
  datasets: [
    { type: 'line', data: hRuRatio.map((y, i) => ({ x: i, y })), yAxisID: 'y2', borderColor: 'rgb(240,98,110)', borderWidth: 1.7,
      pointStyle: STAR, pointRadius: 6, cubicInterpolationMode: 'monotone', order: 1 },
    { type: 'line', data: hNpRatio.map((y, i) => ({ x: i, y })), yAxisID: 'y2', borderColor: 'rgb(70,80,210)', borderWidth: 1.7,
      pointStyle: 'circle', pointRadius: 3.3, pointBorderWidth: 1.2, pointBorderColor: 'rgb(55,60,200)', pointBackgroundColor: 'rgba(255,255,255,0)',
      tension: 0, cubicInterpolationMode: 'default', order: 1 },
    { type: 'bar', data: hNpBar.map((y, i) => ({ x: i, y })), backgroundColor: BLUEBAR, barThickness: 11, grouped: false, order: 2 },
    { type: 'bar', data: hRuBar.map((y, i) => ({ x: i, y })), backgroundColor: PINKBAR, barThickness: 11, grouped: false, order: 3 }
  ],
  notes(ctx) {
    txt(ctx, 446.5, 474.5, 'Area_{Ads. H\u2082O}/Area_{Ads. H\u2082O(UHV)}', 8.3, 'center', -Math.PI / 2);
    txt(ctx, 658.5, 474.5, 'Area_{Ads. H\u2082O}/Area_{Surface O}^{2\u2212}', 8.3, 'center', -Math.PI / 2);
    ctx.fillStyle = PINKBAR; ctx.fillRect(482.7, 412.7, 10.6, 8);
    ctx.drawImage(STAR, 501.7 - 6, 416.7 - 6);
    txt(ctx, 508.3, 416.7, 'Ru/np-MoS_2', 7.2, 'left');
    ctx.fillStyle = BLUEBAR; ctx.fillRect(482.7, 431, 10.6, 8.3);
    ctx.beginPath(); ctx.arc(501.7, 435, 3.3, 0, Math.PI * 2); ctx.lineWidth = 1.3; ctx.strokeStyle = '#000'; ctx.stroke();
    txt(ctx, 508.3, 435, 'np-MoS_2', 7.2, 'left');
    arrow(ctx, 487, 537, 475, 537, { w: 0.9, h: 3 });
    arrow(ctx, 626.7, 432.7, 637, 432.7, { w: 0.9, h: 3 });
    ctx.fillStyle = 'rgb(240,110,125)';
    ctx.fillRect(552.7, 376, 4.7, 16);
    ctx.beginPath(); ctx.moveTo(549.7, 391.7); ctx.lineTo(560.3, 391.7); ctx.lineTo(555, 400.5); ctx.closePath(); ctx.fill();
  }
});
</script>
</body>
</html>
